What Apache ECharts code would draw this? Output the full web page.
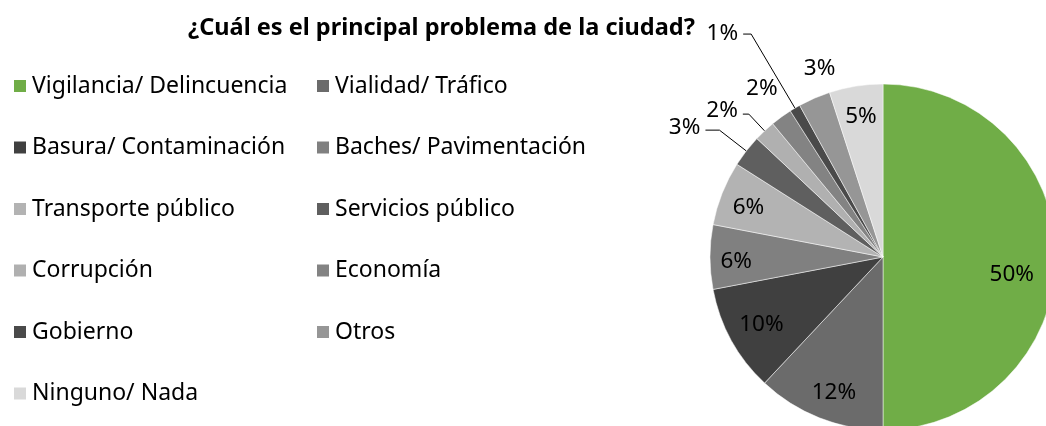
<!DOCTYPE html>
<html lang="es">
<head>
<meta charset="UTF-8">
<title>¿Cuál es el principal problema de la ciudad?</title>
<script src="https://cdn.jsdelivr.net/npm/echarts@6/dist/echarts.min.js"></script>
<style>html,body{margin:0;padding:0;background:#fff;}</style>
</head>
<body>
<div id="chart" style="width:1046px;height:426px;"></div>
<script>
var categories = ['Vigilancia/ Delincuencia', 'Vialidad/ Tráfico', 'Basura/ Contaminación',
    'Baches/ Pavimentación', 'Transporte público', 'Servicios público', 'Corrupción',
    'Economía', 'Gobierno', 'Otros', 'Ninguno/ Nada'];
var values = [50, 12, 10, 6, 6, 3, 2, 2, 1, 3, 5];

// look of each slice / label
var colors = ['#70ad47', '#6b6b6b', '#404040', '#808080', '#b3b3b3', '#5f5f5f',
    '#b0b0b0', '#838383', '#4a4a4a', '#969696', '#d9d9d9'];
var outside  = [false, false, false, false, false, true, true, true, true, true, false];
var showLine = [false, false, false, false, false, true, true, false, true, false, false];
var lineLen  = [0, 0, 0, 0, 0, 34, 23, 30, 86, 30, 0];
var lineLen2 = [0, 0, 0, 0, 0, 14, 6, 0, 8, 0, 0];
var nudge = [[-18, 18], [5, -1], [7, -3], [0, 5], [2, 5], [0, -3], [0, -4], [19, -4], [0, 0], [38, -2], [1, 5]];

var pieCenter = [883, 257];
var font = 'Noto Sans';

var chart = echarts.init(document.getElementById('chart'));

var pieData = [];
for (var i = 0; i < categories.length; i++) {
    pieData.push({
        name: categories[i],
        value: values[i],
        itemStyle: {color: colors[i]},
        label: {position: outside[i] ? 'outside' : 'inside'},
        labelLine: {show: showLine[i], length: lineLen[i], length2: lineLen2[i]}
    });
}

var col1 = [], col2 = [];
for (var j = 0; j < categories.length; j++) {
    (j % 2 === 0 ? col1 : col2).push(categories[j]);
}

function legendCol(left, names) {
    return {
        orient: 'vertical',
        left: left,
        top: 69,
        itemWidth: 14,
        itemHeight: 14,
        itemGap: 37.5,
        icon: 'rect',
        selectedMode: false,
        data: names,
        textStyle: {fontFamily: font, fontSize: 23, lineHeight: 24, color: '#000'}
    };
}

var option = {
    animation: false,
    title: {
        text: '¿Cuál es el principal problema de la ciudad?',
        left: 183,
        top: 11,
        textStyle: {fontFamily: font, fontSize: 23.5, fontWeight: 'bold', color: '#000'}
    },
    legend: [legendCol(7, col1), legendCol(310, col2)],
    series: [{
        type: 'pie',
        center: pieCenter,
        radius: 173,
        startAngle: 90,
        clockwise: true,
        avoidLabelOverlap: false,
        itemStyle: {borderColor: '#fff', borderWidth: 0.5},
        label: {
            formatter: '{c}%',
            fontFamily: font,
            fontSize: 22.5,
            color: '#000'
        },
        labelLine: {lineStyle: {color: '#000', width: 1}},
        labelLayout: function (p) {
            var k = p.dataIndex, r = p.labelRect;
            var nx = nudge[k][0], ny = nudge[k][1];
            if (!outside[k]) {
                var lx = r.x + r.width / 2 - pieCenter[0];
                var ly = r.y + r.height / 2 - pieCenter[1];
                return {dx: lx * 0.64 + nx, dy: ly * 0.64 + ny};
            }
            return {dx: nx, dy: ny};
        },
        data: pieData
    }]
};
chart.setOption(option);
</script>
</body>
</html>
